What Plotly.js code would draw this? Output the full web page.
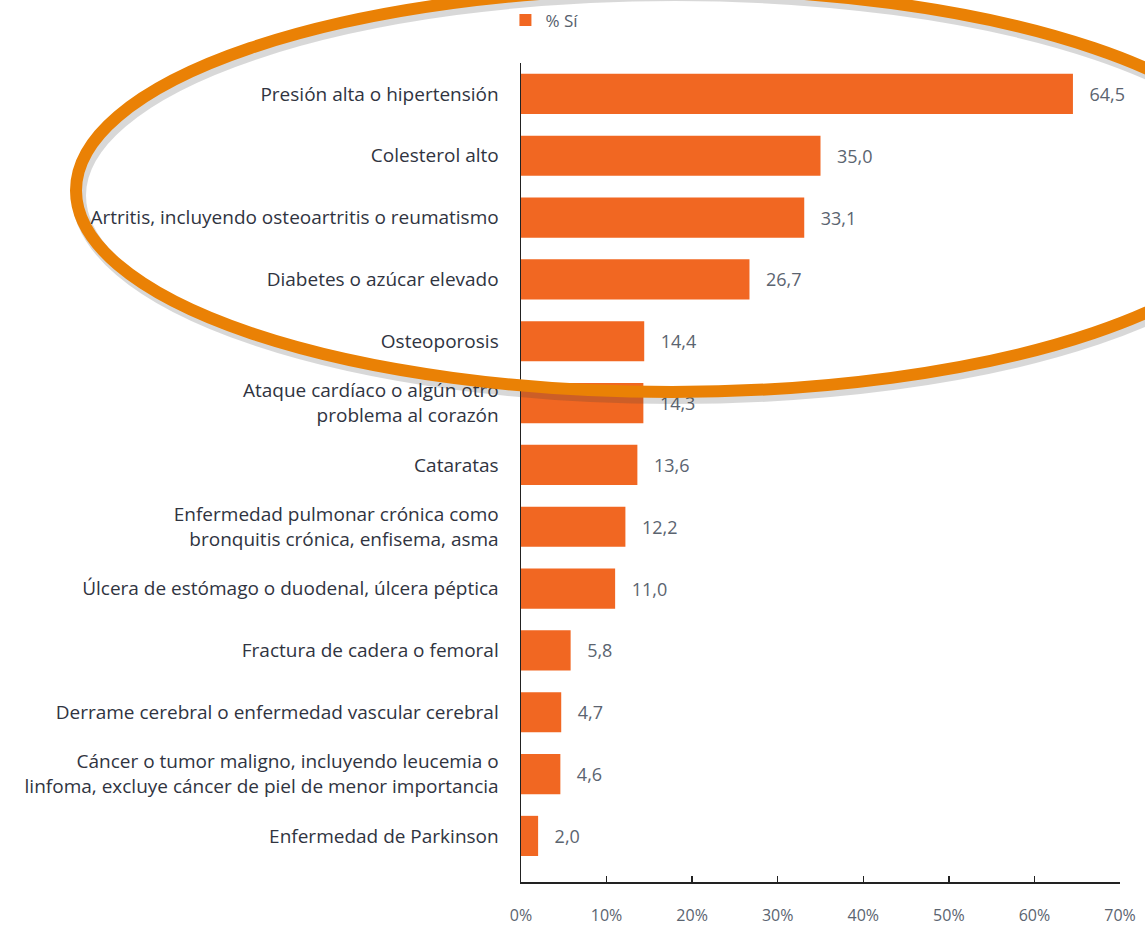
<!DOCTYPE html>
<html>
<head>
<meta charset="utf-8">
<script src="https://cdn.plot.ly/plotly-3.0.1.min.js"></script>
<style>html,body{margin:0;padding:0;background:#fff;}#chart{width:1145px;height:925px;}</style>
</head>
<body>
<div id="chart"></div>
<script>
const categories = [
  "Presión alta o hipertensión",
  "Colesterol alto",
  "Artritis, incluyendo osteoartritis o reumatismo",
  "Diabetes o azúcar elevado",
  "Osteoporosis",
  "Ataque cardíaco o algún otro<br>problema al corazón",
  "Cataratas",
  "Enfermedad pulmonar crónica como<br>bronquitis crónica, enfisema, asma",
  "Úlcera de estómago o duodenal, úlcera péptica",
  "Fractura de cadera o femoral",
  "Derrame cerebral o enfermedad vascular cerebral",
  "Cáncer o tumor maligno, incluyendo leucemia o<br>linfoma, excluye cáncer de piel de menor importancia",
  "Enfermedad de Parkinson"
];
const values = [64.5, 35.0, 33.1, 26.7, 14.4, 14.3, 13.6, 12.2, 11.0, 5.8, 4.7, 4.6, 2.0];
const seriesName = "% Sí";
const xTickVals = [0, 10, 20, 30, 40, 50, 60, 70];
const xTickText = ["0%", "10%", "20%", "30%", "40%", "50%", "60%", "70%"];

const labels = values.map(v => "\u2002\u2005" + v.toFixed(1).replace(".", ","));

// plot area in pixels (used only to place the decorative ellipse)
const L = 521, R = 1120, T = 63, B = 882;
const px = x => (x - L) / (R - L);
const py = y => (B - y) / (B - T);

const trace = {
  type: "bar",
  orientation: "h",
  y: categories,
  x: values,
  name: seriesName,
  marker: {color: "#F16722", line: {width: 0}},
  text: labels,
  textposition: "outside",
  cliponaxis: false,
  textfont: {family: "'Open Sans', sans-serif", size: 18, color: "#5b6470"},
  hoverinfo: "skip"
};

const ell = {x0: 76, x1: 1268, y0: -11, y1: 392};

const layout = {
  width: 1145, height: 925,
  margin: {l: L, r: 1145 - R, t: T, b: 925 - B, autoexpand: false},
  paper_bgcolor: "#ffffff",
  plot_bgcolor: "#ffffff",
  bargap: 0.35,
  showlegend: true,
  legend: {
    orientation: "h", x: -0.026, xanchor: "left", y: 1.03, yanchor: "bottom",
    font: {family: "'Open Sans', sans-serif", size: 17, color: "#56606c"},
    bgcolor: "rgba(0,0,0,0)"
  },
  xaxis: {
    range: [0, 70],
    tickvals: xTickVals, ticktext: xTickText,
    showgrid: false, zeroline: false,
    showline: true, linecolor: "#222", linewidth: 1.5,
    ticks: "inside", ticklen: 6, tickwidth: 1.5, tickcolor: "#222",
    ticklabelstandoff: 18,
    tickfont: {family: "'Open Sans', sans-serif", size: 16, color: "#5b6470"},
    fixedrange: true
  },
  yaxis: {
    type: "category",
    range: [12.745, -0.5],
    showgrid: false, zeroline: false,
    showline: true, linecolor: "#222", linewidth: 1.5,
    ticks: "", ticklabelstandoff: 17,
    tickfont: {family: "'Open Sans', sans-serif", size: 19, color: "#30343f"},
    fixedrange: true
  },
  shapes: [
    {type: "circle", xref: "paper", yref: "paper", layer: "above",
     x0: px(ell.x0 + 3), x1: px(ell.x1 + 3), y0: py(ell.y1 + 5), y1: py(ell.y0 + 5),
     line: {color: "rgba(60,60,60,0.2)", width: 14}},
    {type: "circle", xref: "paper", yref: "paper", layer: "above",
     x0: px(ell.x0), x1: px(ell.x1), y0: py(ell.y1), y1: py(ell.y0),
     line: {color: "#EA8105", width: 12}}
  ]
};

Plotly.newPlot("chart", [trace], layout, {staticPlot: true, displayModeBar: false});
</script>
</body>
</html>
